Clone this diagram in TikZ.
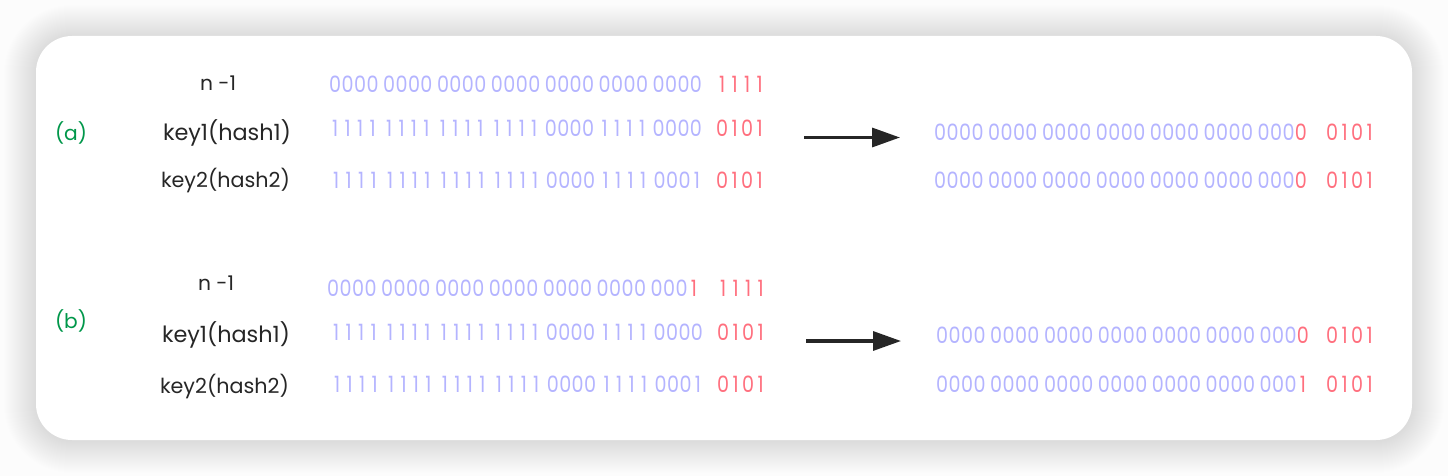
\documentclass[tikz,border=0pt]{standalone}
\usepackage{fontspec}
\setmainfont{Poppins}
\usepackage{graphicx}
\usetikzlibrary{arrows.meta}
\definecolor{bitblue}{HTML}{B4B4FF}
\definecolor{bitred}{HTML}{FF6F7E}
\definecolor{taggreen}{HTML}{00974A}
\definecolor{labelblack}{HTML}{262626}
\definecolor{pagebg}{HTML}{FCFCFC}
\newlength\dgw \setlength\dgw{12.45pt}
\newcommand{\bitfont}{\fontsize{22.5}{27}\selectfont}
\newcommand{\dg}[1]{\makebox[\dgw][c]{\scalebox{0.85}[1]{#1}}}
\newcommand{\grp}[4]{\dg{#1}\dg{#2}\dg{#3}\dg{#4}}
\newcommand{\gs}{\hspace{4.1pt}}
\newcommand{\zerohead}{\grp0000\gs\grp0000\gs\grp0000\gs\grp0000\gs\grp0000\gs\grp0000\gs}
\newcommand{\keyhead}{\grp1111\gs\grp1111\gs\grp1111\gs\grp1111\gs\grp0000\gs\grp1111\gs}
\newcommand{\fitw}[2]{\resizebox{#1pt}{!}{#2}}
\tikzset{
  txt/.style={anchor=base west, inner sep=0pt, outer sep=0pt},
  lbl/.style={txt, text=labelblack},
  tag/.style={txt, text=taggreen},
  bit/.style={txt, text=bitblue, font=\bitfont},
  hi/.style={txt, text=bitred, font=\bitfont},
  conv/.style={line width=3.3pt, draw=labelblack, -{Triangle[length=28pt,width=19pt]}},
}
\begin{document}
\begin{tikzpicture}[x=1pt,y=-1pt]
\useasboundingbox (0,0) rectangle (1448,476);
\fill[pagebg] (0,0) rectangle (1448,476);
% soft shadow
\foreach \i [evaluate=\i as \r using 36+\i] in {1,...,32}{
  \fill[black, fill opacity=0.005, rounded corners=\r pt] (36-\i,37-\i) rectangle (1412+\i,441+\i);
}
\fill[white, rounded corners=36pt] (36,36) rectangle (1412,440);

% ---------- (a) ----------
\node[tag] (taga) at (55,140) {\fitw{32}{(a)}};
\node[lbl] (na)  at (200,91)  {\fitw{36}{n -1}};
\node[lbl] (k1a) at (163,140) {\fitw{128}{key1(hash1)}};
\node[lbl] (k2a) at (161,187) {\fitw{129}{key2(hash2)}};

\node[bit] (ba1) at (329,93)  {\zerohead\grp0000};
\node[hi]  (ra1) at (716,93)  {\grp1111};
\node[bit] (ba2) at (329,137) {\keyhead\grp0000};
\node[hi]  (ra2) at (716,137) {\grp0101};
\node[bit] (ba3) at (330,188) {\keyhead\grp0001};
\node[hi]  (ra3) at (716,188) {\grp0101};

\coordinate (afrom) at (804,137.5);
\coordinate (ato)   at (900,137.5);
\draw[conv] (afrom) -- (ato);

\node[bit] (oa1) at (934,140) {\zerohead\grp000{\textcolor{bitred}{0}}};
\node[hi]  (pa1) at (1326,140) {\grp0101};
\node[bit] (oa2) at (934,188) {\zerohead\grp000{\textcolor{bitred}{0}}};
\node[hi]  (pa2) at (1326,188) {\grp0101};

% ---------- (b) ----------
\node[tag] (tagb) at (55,328) {\fitw{32}{(b)}};
\node[lbl] (nb)  at (198,290) {\fitw{36}{n -1}};
\node[lbl] (k1b) at (162,342) {\fitw{128}{key1(hash1)}};
\node[lbl] (k2b) at (160,393) {\fitw{129}{key2(hash2)}};

\node[bit] (bb1) at (327,296) {\zerohead\grp000{\textcolor{bitred}{1}}};
\node[hi]  (rb1) at (717,296) {\grp1111};
\node[bit] (bb2) at (330,340) {\keyhead\grp0000};
\node[hi]  (rb2) at (717,340) {\grp0101};
\node[bit] (bb3) at (331,392) {\keyhead\grp0001};
\node[hi]  (rb3) at (717,392) {\grp0101};

\coordinate (bfrom) at (806,341);
\coordinate (bto)   at (901,341);
\draw[conv] (bfrom) -- (bto);

\node[bit] (ob1) at (936,343) {\zerohead\grp000{\textcolor{bitred}{0}}};
\node[hi]  (pb1) at (1326,343) {\grp0101};
\node[bit] (ob2) at (936,392) {\zerohead\grp000{\textcolor{bitred}{1}}};
\node[hi]  (pb2) at (1326,392) {\grp0101};
\end{tikzpicture}
\end{document}
